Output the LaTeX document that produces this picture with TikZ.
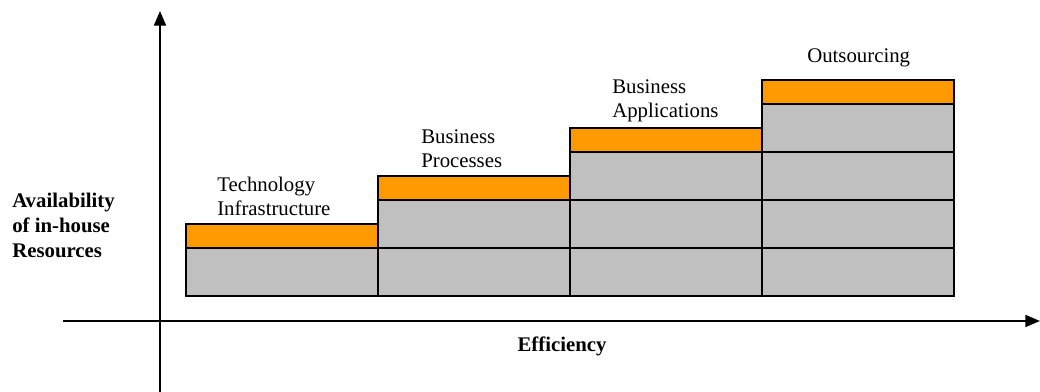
\documentclass[tikz,border=0pt]{standalone}
\usepackage{fontspec}
\setmainfont{Liberation Serif}
\usetikzlibrary{arrows.meta}
\definecolor{cellorange}{HTML}{FF9900}
\definecolor{cellgray}{HTML}{C0C0C0}
\begin{document}
\begin{tikzpicture}[x=0.75pt,y=-0.75pt,
  gcell/.style={draw=black,line width=1.5pt,fill=cellgray,minimum width=144pt,minimum height=36pt,inner sep=0pt,anchor=south west},
  ocell/.style={draw=black,line width=1.5pt,fill=cellorange,minimum width=144pt,minimum height=18pt,inner sep=0pt,anchor=south west},
  lbl/.style={font=\fontsize{15.6}{18}\selectfont,align=left,inner sep=0pt,anchor=north west},
  blbl/.style={font=\fontsize{15.6}{18.5}\selectfont\bfseries,align=left,inner sep=0pt,anchor=north west},
  axis/.style={line width=1.5pt,-{Triangle[width=9pt,length=11pt]}}]
\useasboundingbox (0,0) rectangle (1040,392);
% axes
\coordinate (yb) at (160,392);
\coordinate (yt) at (160,11);
\coordinate (xl) at (63,321);
\coordinate (xr) at (1040,321);
\draw[axis] (yb) -- (yt);
\draw[axis] (xl) -- (xr);
% cells
\foreach \i in {0,1,2,3}{
  \pgfmathsetmacro{\xx}{185+192*\i}
  \foreach \j in {0,...,\i}{
    \pgfmathsetmacro{\yy}{297-48*\j}
    \node[gcell] (g-\i-\j) at (\xx,\yy) {};
  }
  \pgfmathsetmacro{\yo}{297-48*(\i+1)}
  \node[ocell] (o-\i) at (\xx,\yo) {};
}
% labels
\node[lbl] (t1) at (217,177) {Technology\\Infrastructure};
\node[lbl] (t2) at (421,129) {Business\\Processes};
\node[lbl] (t3) at (612,79) {Business\\Applications};
\node[lbl] (t4) at (807,48) {Outsourcing};
\node[blbl] (ya) at (12,193) {Availability\\of in-house\\Resources};
\node[font=\fontsize{15.6}{18}\selectfont\bfseries,inner sep=0pt,anchor=north] (xa) at (562,337) {Efficiency};
\end{tikzpicture}
\end{document}
